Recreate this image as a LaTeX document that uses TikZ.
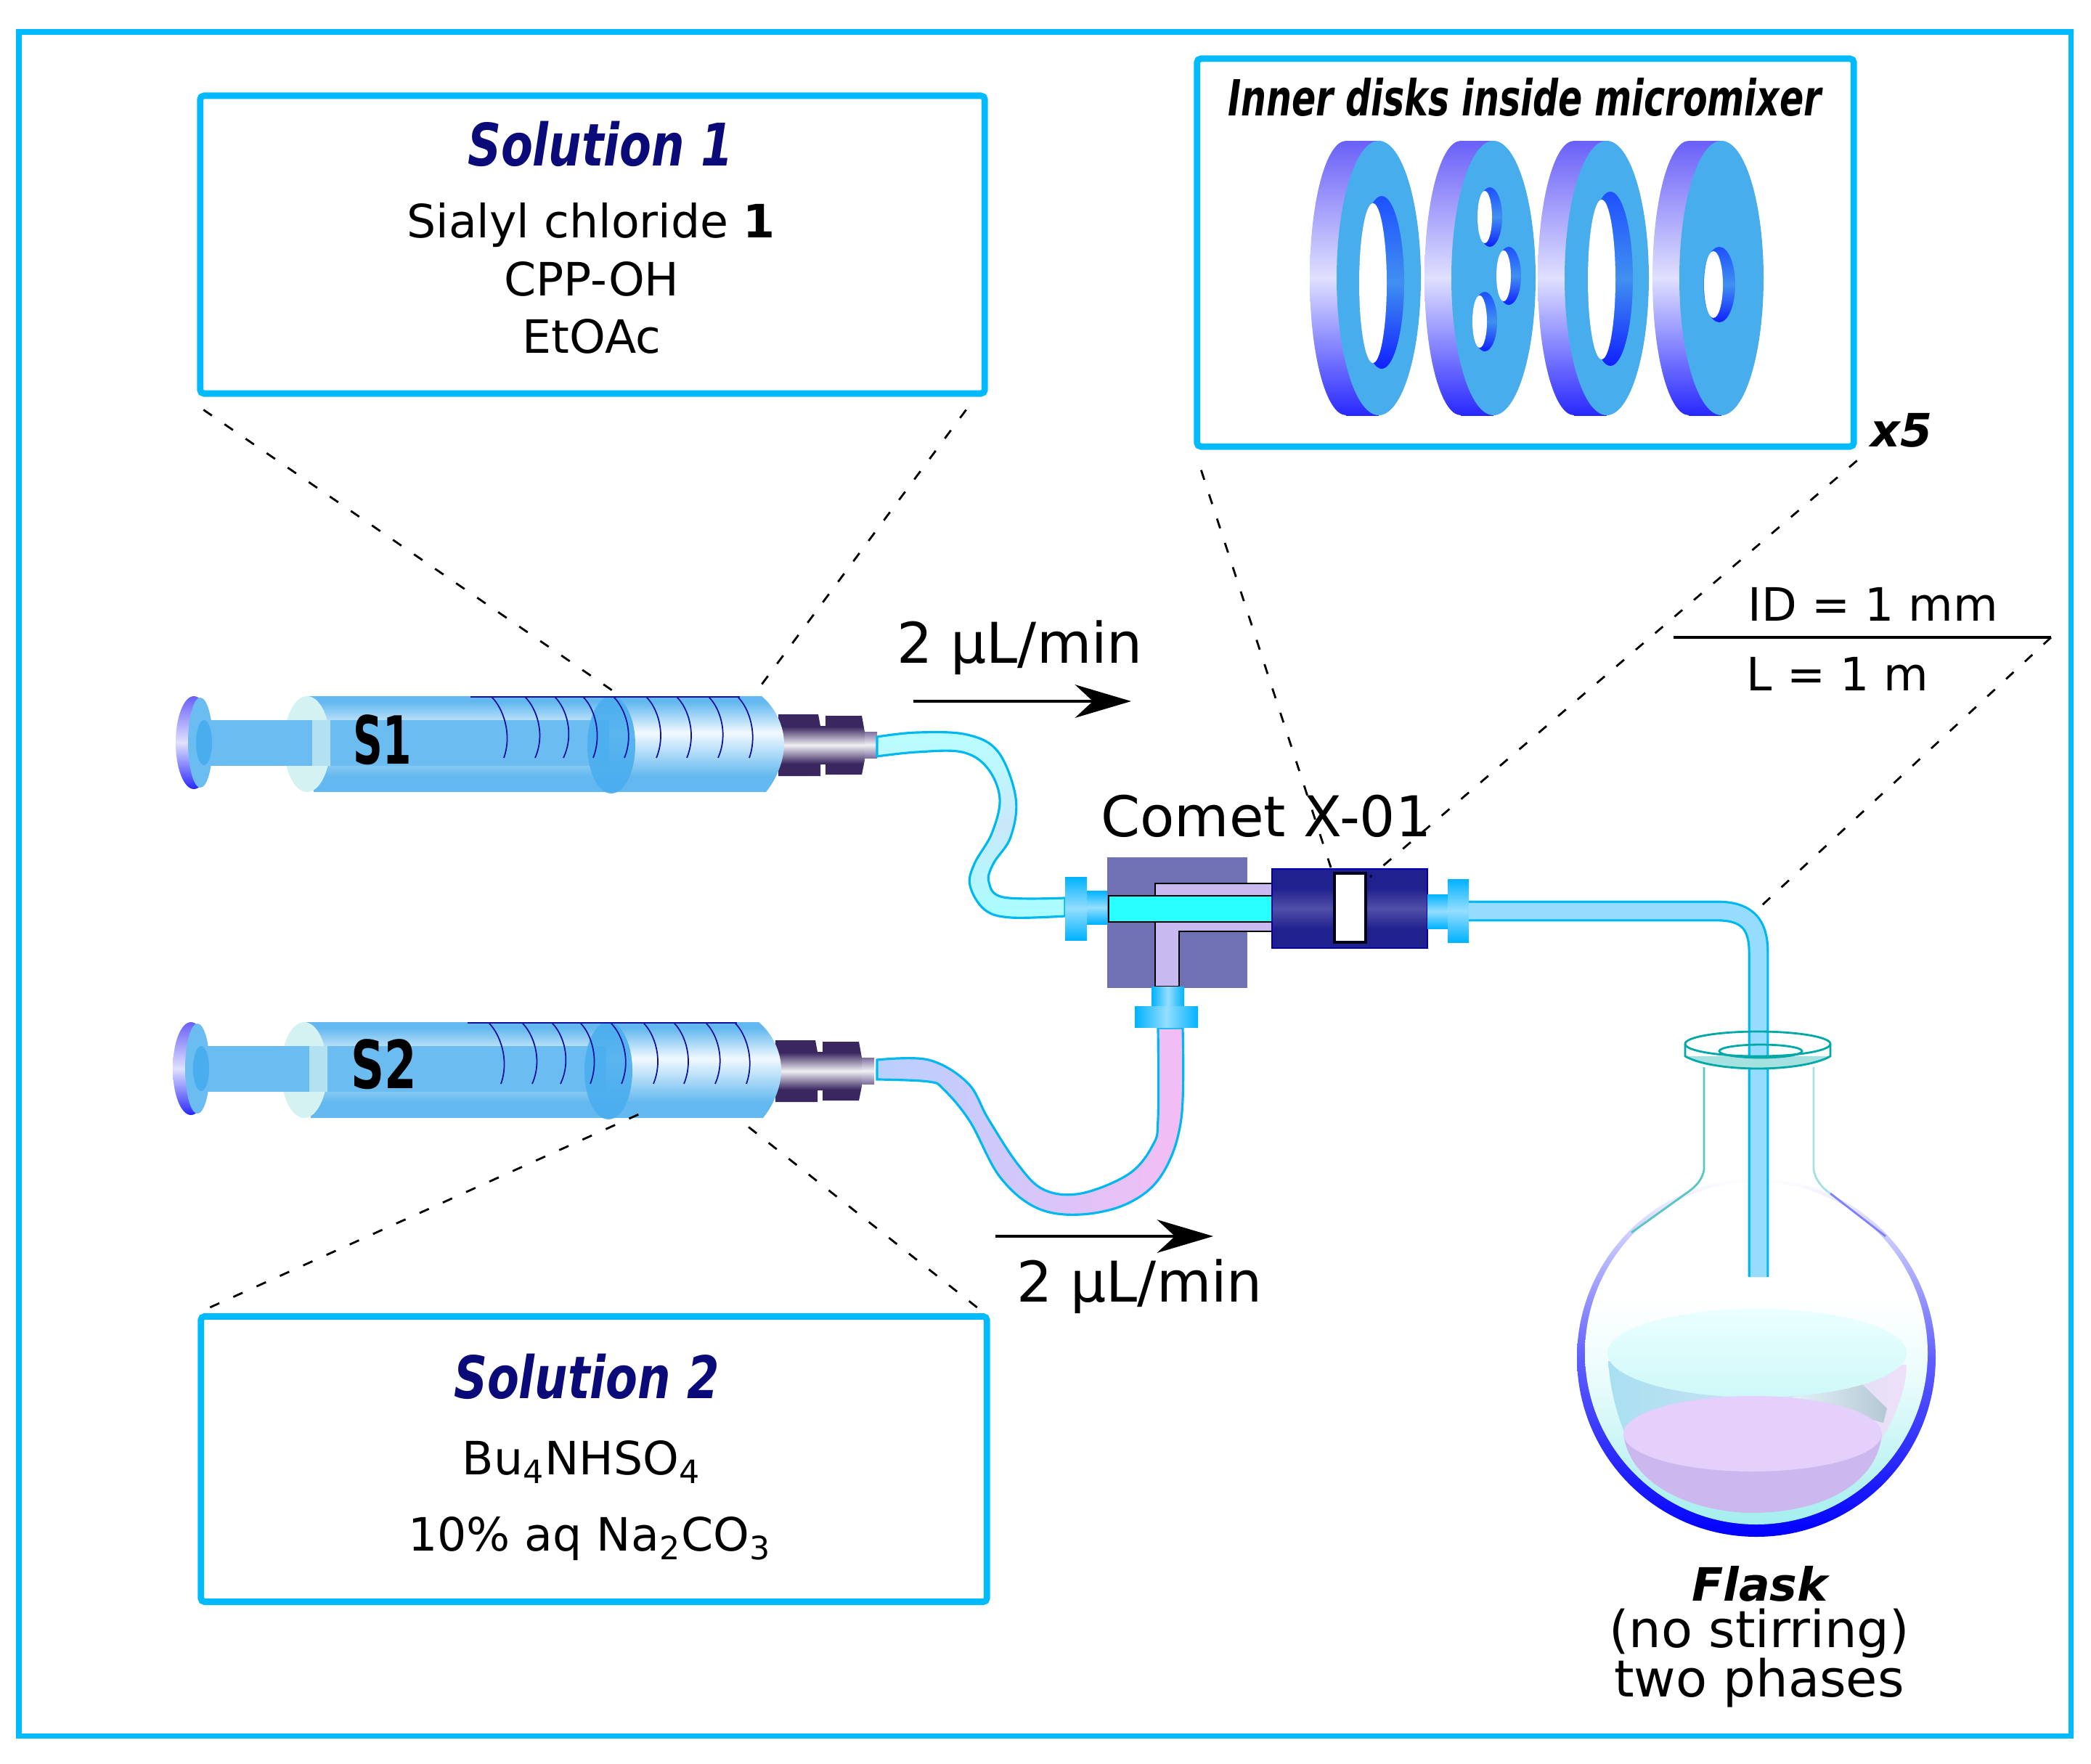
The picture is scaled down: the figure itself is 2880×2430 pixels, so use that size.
\documentclass[tikz,border=0pt]{standalone}
\usepackage{fontspec}
\setmainfont{DejaVu Sans}
\usepackage{tikz}
\usetikzlibrary{arrows.meta}

\definecolor{framecyan}{HTML}{00BAFF}
\definecolor{titlenavy}{HTML}{0A0A78}
\definecolor{barrelblue}{HTML}{62B8EF}
\definecolor{barrelpale}{HTML}{F2F9FF}
\definecolor{rodblue}{HTML}{6BBCF0}
\definecolor{pistonblue}{HTML}{4AAEEE}
\definecolor{rimpale}{HTML}{D4F2F2}
\definecolor{scalenavy}{HTML}{1010A0}
\definecolor{hubdark}{HTML}{3A2760}
\definecolor{hubpale}{HTML}{F0F0F4}
\definecolor{hubgrey}{HTML}{8070A0}
\definecolor{tubeedge}{HTML}{00B8F0}
\definecolor{tubeinner}{HTML}{95DCFF}
\definecolor{feedtop}{HTML}{B8FFFF}
\definecolor{feedmid}{HTML}{C8E8FA}
\definecolor{feedlow}{HTML}{A8FFFF}
\definecolor{feedblue}{HTML}{B8D0FF}
\definecolor{feedpink}{HTML}{F4BCF4}
\definecolor{fitblue}{HTML}{00B2FF}
\definecolor{fitpale}{HTML}{95DEFF}
\definecolor{teeblock}{HTML}{7070B4}
\definecolor{teelilac}{HTML}{C8BAF0}
\definecolor{teecyan}{HTML}{28FFFF}
\definecolor{mixnavy}{HTML}{20208E}
\definecolor{mixpale}{HTML}{5050A8}
\definecolor{diskface}{HTML}{48ADEC}
\definecolor{rimtop}{HTML}{6A60F8}
\definecolor{rimmid}{HTML}{E0E0FF}
\definecolor{rimlow}{HTML}{2828FF}
\definecolor{walltop}{HTML}{1E50FF}
\definecolor{wallmid}{HTML}{4090F0}
\definecolor{walllow}{HTML}{1020FF}
\definecolor{flaskteal}{HTML}{00A8A8}
\definecolor{bulbedge}{HTML}{6060FF}
\definecolor{bulblow}{HTML}{A4EEEE}
\definecolor{bulbmid}{HTML}{EAFCFC}
\definecolor{upperleft}{HTML}{A8E0F0}
\definecolor{upperright}{HTML}{EEE0F8}
\definecolor{uppertop}{HTML}{EAFFFF}
\definecolor{upperlow}{HTML}{CFF8F8}
\definecolor{patchleft}{HTML}{E4F2F8}
\definecolor{patchright}{HTML}{B4C8D4}
\definecolor{lowerbowl}{HTML}{CCB8EE}
\definecolor{lowertop}{HTML}{E4D0FA}

\pgfdeclareverticalshading{barrelshade}{100bp}{color(0bp)=(barrelblue); color(33bp)=(barrelblue);
    color(56bp)=(barrelpale); color(72bp)=(barrelblue); color(100bp)=(barrelblue)}
\pgfdeclareverticalshading{hubshade}{100bp}{color(0bp)=(hubdark); color(35bp)=(hubdark);
    color(50bp)=(hubpale); color(65bp)=(hubdark); color(100bp)=(hubdark)}
\pgfdeclareverticalshading{mixshade}{100bp}{color(0bp)=(mixnavy); color(37bp)=(mixnavy);
    color(50bp)=(mixpale); color(63bp)=(mixnavy); color(100bp)=(mixnavy)}
\pgfdeclareverticalshading{bulbshade}{100bp}{color(0bp)=(bulblow); color(25bp)=(bulblow);
    color(46bp)=(bulbmid); color(58bp)=(white); color(100bp)=(white)}

\tikzset{
    infobox/.style={draw=framecyan,line width=2.5pt,rounded corners=1.5pt,inner sep=0pt},
    zoomline/.style={line width=0.8pt,dash pattern=on 4pt off 6pt},
    flowarrow/.style={line width=0.9pt,-{Stealth[length=22pt,width=13pt,inset=7pt]}},
    bodytext/.style={font=\fontsize{18}{22}\selectfont,inner sep=0pt},
    bigtext/.style={font=\fontsize{22}{26}\selectfont,inner sep=0pt},
    flasktext/.style={font=\fontsize{20}{24}\selectfont,inner sep=0pt},
    titletext/.style={font=\fontsize{23}{27}\selectfont\bfseries\itshape,text=titlenavy,inner sep=0pt},
    fitting/.style={top color=fitblue,bottom color=fitblue,middle color=fitpale},
    fittingup/.style={left color=fitblue,right color=fitblue,middle color=fitpale},
    diskrim/.style={top color=rimtop,bottom color=rimlow,middle color=rimmid},
    holewall/.style={top color=walltop,bottom color=walllow,middle color=wallmid},
    tubewall/.style={draw=tubeedge,line width=0.9pt},
    scalemark/.style={draw=scalenavy,line width=0.5pt},
}

\begin{document}
\begin{tikzpicture}[x=0.01cm,y=-0.01cm]
        \useasboundingbox (0,0) rectangle (2880,2430);

        % Outer frame
        \draw [framecyan,line width=2pt] (26,44) rectangle (2852,2391);

        % Info boxes
        \node (solone) [infobox,minimum width=10.8cm,minimum height=4.1cm] at (816,337) {};
        \node (soltwo) [infobox,minimum width=10.82cm,minimum height=3.93cm] at (818,2010) {};
        \node (diskbox) [infobox,minimum width=9.04cm,minimum height=5.34cm] at (2101,348) {};

        % Solution 1 text
        \node (solonehead) [titletext] at (827,198) {\scalebox{0.79}[1]{Solution 1}};
        \node (solonea) [bodytext] at (814,310) {Sialyl chloride \textbf{1}};
        \node (soloneb) [bodytext] at (815,384) {CPP-OH};
        \node (solonec) [bodytext] at (815,463) {EtOAc};

        % Solution 2 text
        \node (soltwohead) [titletext] at (808,1896) {\scalebox{0.79}[1]{Solution 2}};
        \node (soltwoa) [bodytext] at (801,2014) {Bu\textsubscript{4}NHSO\textsubscript{4}};
        \node (soltwob) [bodytext] at (812,2120) {10\% aq Na\textsubscript{2}CO\textsubscript{3}};

        % Disk box text
        \node (diskhead) [inner sep=0pt,font=\fontsize{19.5}{23}\selectfont\bfseries\itshape] at (2100,134)
            {\scalebox{0.715}[1]{Inner disks inside micromixer}};
        \node (diskcount) [inner sep=0pt,font=\fontsize{18}{22}\selectfont\bfseries\itshape] at (2619,593) {x5};

        % Disk rims
        \shade [diskrim] (1854,383) ellipse [x radius=50,y radius=189];
        \shade [diskrim] (1854,194) rectangle (1899,572);
        \shade [diskrim] (2012,383) ellipse [x radius=50,y radius=189];
        \shade [diskrim] (2012,194) rectangle (2057,572);
        \shade [diskrim] (2168,383) ellipse [x radius=50,y radius=189];
        \shade [diskrim] (2168,194) rectangle (2213,572);
        \shade [diskrim] (2326,383) ellipse [x radius=50,y radius=189];
        \shade [diskrim] (2326,194) rectangle (2371,572);

        % Disk faces
        \fill [diskface] (1899,383) ellipse [x radius=58,y radius=189];
        \fill [diskface] (2057,383) ellipse [x radius=58,y radius=189];
        \fill [diskface] (2213,383) ellipse [x radius=58,y radius=189];
        \fill [diskface] (2371,383) ellipse [x radius=58,y radius=189];

        % Disk holes
        \shade [holewall] (1903,389) ellipse [x radius=31,y radius=119];
        \fill [white] (1891,390) ellipse [x radius=19,y radius=110];
        \shade [holewall] (2052,299) ellipse [x radius=17,y radius=41];
        \fill [white] (2045,299) ellipse [x radius=10,y radius=36];
        \shade [holewall] (2078,380) ellipse [x radius=17,y radius=40];
        \fill [white] (2071,380) ellipse [x radius=10,y radius=35];
        \shade [holewall] (2045,443) ellipse [x radius=17,y radius=41];
        \fill [white] (2038,443) ellipse [x radius=10,y radius=36];
        \shade [holewall] (2218,384) ellipse [x radius=31,y radius=120];
        \fill [white] (2206,385) ellipse [x radius=19,y radius=110];
        \shade [holewall] (2368,392) ellipse [x radius=22,y radius=52];
        \fill [white] (2360,392) ellipse [x radius=13,y radius=46];

        % Syringe S1
        \begin{scope}
            \shade [shading=hubshade] (1072,984) -- (1127,984) -- (1130,1000) -- (1137,1000) -- (1137,986) -- (1187,986)
                -- (1191,1008) -- (1191,1047) -- (1187,1067) -- (1137,1067) -- (1137,1053) -- (1130,1053)
                -- (1130,1069) -- (1072,1069) -- cycle;
            \shade [top color=hubgrey,bottom color=hubgrey,middle color=hubpale] (1191,1008) rectangle (1208,1044);
            \shade [diskrim] (267,1023) ellipse [x radius=25,y radius=64];
            \fill [rodblue] (276,1023) ellipse [x radius=17,y radius=62];
            \shade [shading=barrelshade] (422,959) -- (1049,959) .. controls (1068,975) and (1080,1000) .. (1080,1025)
                .. controls (1080,1050) and (1068,1075) .. (1055,1091) -- (432,1091) -- cycle;
            \fill [rimpale] (423,1025) ellipse [x radius=32,y radius=66];
            \fill [rodblue] (273,992) rectangle (839,1055);
            \fill [pistonblue] (281,1023) ellipse [x radius=11,y radius=31];
            \fill [rimpale,opacity=0.7] (430,992) rectangle (455,1055);
            \fill [pistonblue,opacity=0.9] (842,1026) ellipse [x radius=33,y radius=67];
            \draw [scalemark,line width=0.8pt] (648,960) -- (1019,960);
            \draw [scalemark] (678,961) .. controls (692,975) and (706,1010) .. (694,1044);
            \draw [scalemark] (724,961) .. controls (738,975) and (752,1010) .. (737,1044);
            \draw [scalemark] (765,961) .. controls (779,975) and (792,1010) .. (776,1044);
            \draw [scalemark] (804,961) .. controls (818,975) and (830,1010) .. (817,1044);
            \draw [scalemark] (846,961) .. controls (860,975) and (874,1010) .. (860,1044);
            \draw [scalemark] (891,961) .. controls (905,975) and (918,1010) .. (904,1044);
            \draw [scalemark] (933,961) .. controls (947,975) and (960,1010) .. (946,1044);
            \draw [scalemark] (977,961) .. controls (991,975) and (1004,1010) .. (989,1044);
            \draw [scalemark] (1017,961) .. controls (1031,975) and (1044,1010) .. (1032,1044);
            \node (labelone) [inner sep=0pt,font=\fontsize{26}{30}\selectfont\bfseries] at (527,1019) {\scalebox{0.62}[1]{S1}};
        \end{scope}

        % Syringe S2
        \begin{scope}[shift={(-4,449)}]
            \shade [shading=hubshade] (1072,984) -- (1127,984) -- (1130,1000) -- (1137,1000) -- (1137,986) -- (1187,986)
                -- (1191,1008) -- (1191,1047) -- (1187,1067) -- (1137,1067) -- (1137,1053) -- (1130,1053)
                -- (1130,1069) -- (1072,1069) -- cycle;
            \shade [top color=hubgrey,bottom color=hubgrey,middle color=hubpale] (1191,1008) rectangle (1208,1044);
            \shade [diskrim] (267,1023) ellipse [x radius=25,y radius=64];
            \fill [rodblue] (276,1023) ellipse [x radius=17,y radius=62];
            \shade [shading=barrelshade] (422,959) -- (1049,959) .. controls (1068,975) and (1080,1000) .. (1080,1025)
                .. controls (1080,1050) and (1068,1075) .. (1055,1091) -- (432,1091) -- cycle;
            \fill [rimpale] (423,1025) ellipse [x radius=32,y radius=66];
            \fill [rodblue] (273,992) rectangle (839,1055);
            \fill [pistonblue] (281,1023) ellipse [x radius=11,y radius=31];
            \fill [rimpale,opacity=0.7] (430,992) rectangle (455,1055);
            \fill [pistonblue,opacity=0.9] (842,1026) ellipse [x radius=33,y radius=67];
            \draw [scalemark,line width=0.8pt] (648,960) -- (1019,960);
            \draw [scalemark] (678,961) .. controls (692,975) and (706,1010) .. (694,1044);
            \draw [scalemark] (724,961) .. controls (738,975) and (752,1010) .. (737,1044);
            \draw [scalemark] (765,961) .. controls (779,975) and (792,1010) .. (776,1044);
            \draw [scalemark] (804,961) .. controls (818,975) and (830,1010) .. (817,1044);
            \draw [scalemark] (846,961) .. controls (860,975) and (874,1010) .. (860,1044);
            \draw [scalemark] (891,961) .. controls (905,975) and (918,1010) .. (904,1044);
            \draw [scalemark] (933,961) .. controls (947,975) and (960,1010) .. (946,1044);
            \draw [scalemark] (977,961) .. controls (991,975) and (1004,1010) .. (989,1044);
            \draw [scalemark] (1017,961) .. controls (1031,975) and (1044,1010) .. (1032,1044);
            \node (labeltwo) [inner sep=0pt,font=\fontsize{26}{30}\selectfont\bfseries] at (533,1017) {\scalebox{0.7}[1]{S2}};
        \end{scope}

        % Feed tubes
        \shade [tubewall,top color=feedtop,bottom color=feedlow,middle color=feedmid]
            plot [smooth,tension=0.6] coordinates {(1208,1015) (1263,1009) (1332,1012) (1375,1036) (1399,1099)
                (1392,1153) (1368,1190) (1362,1215) (1382,1236) (1467,1237)}
            -- plot [smooth,tension=0.6] coordinates {(1467,1262) (1392,1264) (1356,1253) (1336,1220) (1342,1190)
                (1366,1148) (1377,1100) (1360,1058) (1325,1036) (1263,1036) (1208,1042)} -- cycle;
        \shade [tubewall,left color=feedblue,right color=feedpink]
            plot [smooth,tension=0.6] coordinates {(1208,1460) (1279,1460) (1333,1492) (1361,1541) (1402,1604)
                (1438,1639) (1489,1644) (1555,1617) (1588,1577) (1595,1541) (1595,1416)}
            -- plot [smooth,tension=0.6] coordinates {(1629,1416) (1627,1541) (1601,1617) (1555,1657) (1489,1673)
                (1428,1664) (1377,1621) (1336,1545) (1300,1501) (1279,1490) (1208,1487)} -- cycle;

        % T-piece
        \fill [teeblock] (1525,1181) rectangle (1718,1361);
        \filldraw [fill=teelilac,draw=black,line width=0.7pt] (1591,1359) -- (1591,1217) -- (1752,1217) -- (1752,1283)
            -- (1624,1283) -- (1624,1359) -- cycle;
        \filldraw [fill=teecyan,draw=black,line width=0.7pt] (1527,1234) rectangle (1752,1270);

        % Micromixer body
        \shade [shading=mixshade] (1752,1197) rectangle (1966,1306);
        \draw [blue!70!black,line width=0.5pt] (1752,1197) rectangle (1966,1306);
        \filldraw [fill=white,draw=black!90!blue,line width=1.4pt] (1838,1203) rectangle (1881,1298);

        % Fittings
        \shade [fitting] (1497,1227) rectangle (1525,1273);
        \shade [fitting] (1467,1208) rectangle (1497,1295);
        \shade [fitting] (1966,1232) rectangle (1994,1279);
        \shade [fitting] (1994,1211) rectangle (2023,1298);
        \shade [fittingup] (1586,1359) rectangle (1631,1386);
        \shade [fittingup] (1563,1386) rectangle (1650,1415);

        % Flask bulb
        \shade [top color=white,bottom color=blue,middle color=bulbedge] (2419,1870) circle [radius=247];
        \shade [shading=bulbshade] (2419,1864) circle [radius=236];

        % Flask upper phase
        \shade [left color=upperleft,right color=upperright] (2215,1875)
            .. controls (2218,1920) and (2230,1960) .. (2245,1990) -- (2590,1985)
            .. controls (2612,1950) and (2626,1910) .. (2626,1880) -- cycle;
        \shade [left color=patchleft,right color=patchright] (2565,1907) -- (2599,1940) -- (2594,1960)
            -- (2467,1925) -- cycle;
        \shade [top color=uppertop,bottom color=upperlow] (2420,1864) ellipse [x radius=206,y radius=61];

        % Flask lower phase
        \fill [lowerbowl] (2236,1975) .. controls (2245,2050) and (2340,2084) .. (2414,2084)
            .. controls (2500,2084) and (2585,2050) .. (2592,1975) -- cycle;
        \fill [lowertop] (2414,1975) ellipse [x radius=178,y radius=52];

        % Flask neck
        \draw [flaskteal!65!white,line width=0.8pt] (2347,1470) -- (2347,1611) .. controls (2345,1625) and (2335,1635) .. (2325,1642)
            -- (2247,1698);
        \draw [flaskteal!35!white,line width=0.8pt] (2498,1470) -- (2498,1611) .. controls (2500,1625) and (2510,1637) .. (2521,1644);
        \draw [blue!50!white,line width=0.8pt] (2521,1644) -- (2597,1703);

        % Outlet tube
        \draw [tubeedge,line width=8.2pt] (2023,1255) -- (2365,1255) .. controls (2408,1255) and (2422,1275) .. (2422,1312) -- (2422,1759);
        \draw [tubeinner,line width=6.4pt] (2023,1255) -- (2365,1255) .. controls (2408,1255) and (2422,1275) .. (2422,1312) -- (2422,1759);

        % Flask collar
        \fill [flaskteal!35!white] (2321,1455) .. controls (2340,1466) and (2380,1472) .. (2421,1472)
            .. controls (2462,1472) and (2502,1466) .. (2521,1455) -- cycle;
        \draw [flaskteal,line width=0.8pt] (2421,1438) ellipse [x radius=100,y radius=17];
        \draw [flaskteal,line width=0.8pt] (2321,1438) -- (2321,1455) .. controls (2340,1466) and (2380,1472) .. (2421,1472)
            .. controls (2462,1472) and (2502,1466) .. (2521,1455) -- (2521,1438);
        \draw [flaskteal,line width=0.8pt] (2425,1448) ellipse [x radius=57,y radius=9];

        % Tube and instrument text
        \node (cometname) [bigtext] at (1744,1124) {Comet X-01};
        \node (rateone) [bigtext] at (1405,892) {2 µL/min};
        \node (ratetwo) [bigtext] at (1570,1772) {2 µL/min};
        \node (tubeid) [bodytext] at (2580,832) {ID = 1 mm};
        \node (tubelen) [bodytext] at (2531,928) {L = 1 m};
        \node (flaskname) [inner sep=0pt,font=\fontsize{18}{22}\selectfont\bfseries\itshape] at (2424,2182) {Flask};
        \node (flaskstir) [flasktext] at (2423,2250) {(no stirring)};
        \node (flaskphase) [flasktext] at (2423,2318) {two phases};

        % Flow arrows
        \coordinate (rateonestart) at (1258,966);
        \coordinate (rateoneend) at (1558,966);
        \coordinate (ratetwostart) at (1371,1703);
        \coordinate (ratetwoend) at (1671,1703);
        \draw [flowarrow] (rateonestart) -- (rateoneend);
        \draw [flowarrow] (ratetwostart) -- (ratetwoend);

        % Tube size rule
        \coordinate (ruleleft) at (2305,878);
        \coordinate (ruleright) at (2825,878);
        \draw [line width=0.9pt] (ruleleft) -- (ruleright);

        % Zoom lines
        \coordinate (syroneleft) at (849,955);
        \coordinate (syroneright) at (1043,951);
        \coordinate (syrtwoleft) at (882,1534);
        \coordinate (syrtworight) at (1019,1543);
        \coordinate (mixleft) at (1833,1195);
        \coordinate (mixright) at (1887,1208);
        \coordinate (tubebend) at (2415,1258);
        \draw [zoomline] ([shift={(9,18)}]solone.south west) -- (syroneleft);
        \draw [zoomline] ([shift={(-30,18)}]solone.south east) -- (syroneright);
        \draw [zoomline] ([shift={(17,-8)}]soltwo.north west) -- (syrtwoleft);
        \draw [zoomline] ([shift={(-18,-8)}]soltwo.north east) -- (syrtworight);
        \draw [zoomline] ([shift={(10,28)}]diskbox.south west) -- (mixleft);
        \draw [zoomline] ([shift={(0,15)}]diskbox.south east) -- (mixright);
        \draw [zoomline] (ruleright) -- (tubebend);
    \end{tikzpicture}
\end{document}
